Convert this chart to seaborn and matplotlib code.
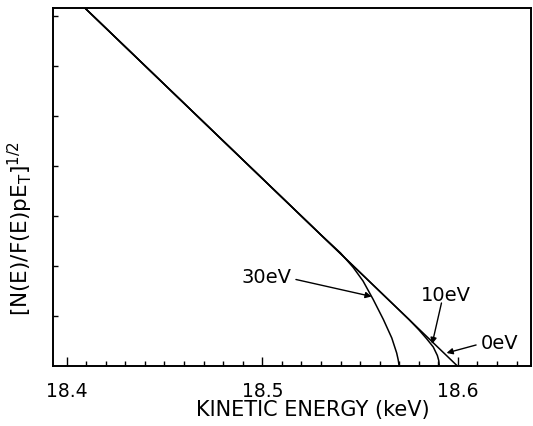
import numpy as np
import pandas as pd
import matplotlib
matplotlib.use("Agg")
import matplotlib.pyplot as plt
import seaborn as sns

# ---- data ----
energy_0ev = [18.40, 18.60]
kurie_0ev = [7.52, 0.00]

energy_10ev = [18.40, 18.575, 18.580, 18.584, 18.5874, 18.5895, 18.5902, 18.5905]
kurie_10ev = [7.52, 0.94, 0.735, 0.556, 0.39, 0.22, 0.12, 0.00]

energy_30ev = [18.40, 18.530, 18.540, 18.5465, 18.5515, 18.5567, 18.5619,
               18.5662, 18.5687, 18.5695, 18.5700]
kurie_30ev = [7.52, 2.63, 2.27, 1.98, 1.71, 1.34, 0.94, 0.57, 0.27, 0.13, 0.00]

major_ticks = [18.4, 18.5, 18.6]
major_labels = ["18.4", "18.5", "18.6"]
minor_ticks = [round(18.40 + 0.01 * i, 2) for i in range(24)]
y_ticks = [1, 2, 3, 4, 5, 6, 7]

labels = ["0eV", "10eV", "30eV"]

sns.set_style("white")
plt.rcParams["font.family"] = ["DejaVu Sans"]
plt.rcParams["mathtext.fontset"] = "dejavusans"
plt.rcParams["text.color"] = "black"
plt.rcParams["axes.labelcolor"] = "black"
plt.rcParams["xtick.color"] = "black"
plt.rcParams["ytick.color"] = "black"

fig = plt.figure(figsize=(5.33, 4.26), dpi=100)
ax = fig.add_axes([0.0994, 0.1397, 0.8977, 0.8404])

for e, k in [(energy_0ev, kurie_0ev), (energy_10ev, kurie_10ev), (energy_30ev, kurie_30ev)]:
    df = pd.DataFrame({"E": e, "K": k})
    sns.lineplot(data=df, x="E", y="K", ax=ax, color="black", lw=1.1,
                 sort=False, estimator=None)

ax.set_xlim(18.393, 18.6376)
ax.set_ylim(0, 7.16)

ax.set_xticks(major_ticks)
ax.set_xticklabels(major_labels)
ax.set_xticks(minor_ticks, minor=True)
ax.set_yticks(y_ticks)
ax.set_yticklabels([])

ax.tick_params(axis="x", which="major", direction="in", length=6.5, width=1.0,
               labelsize=13.5, pad=11, colors="black", bottom=True, top=False)
ax.tick_params(axis="x", which="minor", direction="in", length=3.6, width=1.0,
               bottom=True, top=False, colors="black")
ax.tick_params(axis="y", which="major", direction="in", length=3.6, width=1.0,
               left=True, right=False, colors="black")

for s in ax.spines.values():
    s.set_visible(True)
    s.set_color("black")
    s.set_linewidth(1.4)

ax.set_xlabel("KINETIC ENERGY (keV)", fontsize=15, color="black")
ax.xaxis.set_label_coords(0.542, -0.095)
ax.set_ylabel(r"[N(E)/F(E)pE$\mathregular{_T}$]$^{\mathregular{1/2}}$",
              fontsize=15.5, color="black")
ax.yaxis.set_label_coords(-0.038, 0.385)

arrow = dict(arrowstyle="-|>", color="black", lw=1.0, mutation_scale=9,
             shrinkA=0, shrinkB=0)
ax.annotate("", xy=(18.5559, 1.40), xytext=(18.5172, 1.74), arrowprops=arrow)
ax.text(18.5019, 1.78, labels[2], fontsize=14, ha="center", va="center", color="black")

ax.annotate("", xy=(18.5868, 0.45), xytext=(18.5916, 1.27), arrowprops=arrow)
ax.text(18.5937, 1.42, labels[1], fontsize=14, ha="center", va="center", color="black")

ax.annotate("", xy=(18.5942, 0.27), xytext=(18.6093, 0.43), arrowprops=arrow)
ax.text(18.6215, 0.45, labels[0], fontsize=14, ha="center", va="center", color="black")

fig.savefig("out.png", dpi=100)
